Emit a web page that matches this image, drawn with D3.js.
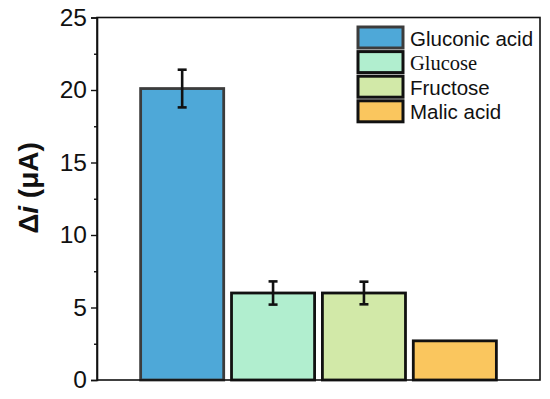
<!DOCTYPE html>
<html><head><meta charset="utf-8">
<script src="https://cdn.jsdelivr.net/npm/d3@7"></script>
<style>body{margin:0;background:#fff}svg{display:block}</style>
</head><body>
<script>
const categories = ["Gluconic acid", "Glucose", "Fructose", "Malic acid"];
const values = [20.1, 6.0, 6.0, 2.7];
const errors = [1.3, 0.8, 0.78, 0];
const colors = ["#4ea8d8", "#b1eecf", "#d2e9a8", "#fac65e"];
const strokes = ["#3c3c3c", "#111", "#111", "#111"];
const legendFonts = ["Arial, 'Liberation Sans', sans-serif", "'Times New Roman', 'Liberation Serif', serif", "Arial, 'Liberation Sans', sans-serif", "Arial, 'Liberation Sans', sans-serif"];
const yTicks = [0, 5, 10, 15, 20, 25];
const yMinorTicks = [2.5, 7.5, 12.5, 17.5, 22.5];

const W = 550, H = 399;
const m = {left: 97, right: 10, top: 17.5, bottom: 19};
const svg = d3.select("body").append("svg").attr("width", W).attr("height", H);

const x = d3.scaleBand().domain(categories).range([m.left, W - m.right]).paddingInner(0.086).paddingOuter(0.48);
const y = d3.scaleLinear().domain([0, 25]).range([H - m.bottom, m.top]);

// bars
svg.selectAll("rect.bar").data(categories).join("rect").attr("class", "bar")
  .attr("x", d => x(d)).attr("width", x.bandwidth())
  .attr("y", (d, i) => y(values[i])).attr("height", (d, i) => y(0) - y(values[i]))
  .attr("fill", (d, i) => colors[i]).attr("stroke", (d, i) => strokes[i]).attr("stroke-width", 2.8);

// error bars
const eg = svg.append("g").attr("stroke", "#111").attr("stroke-width", 2.6);
categories.forEach((c, i) => {
  if (!errors[i]) return;
  const cx = x(c) + x.bandwidth() / 2;
  eg.append("line").attr("x1", cx).attr("x2", cx).attr("y1", y(values[i] + errors[i])).attr("y2", y(values[i] - errors[i]));
  [values[i] + errors[i], values[i] - errors[i]].forEach(v =>
    eg.append("line").attr("x1", cx - 4.5).attr("x2", cx + 4.5).attr("y1", y(v)).attr("y2", y(v)));
});

// frame
svg.append("rect").attr("x", m.left).attr("y", m.top).attr("width", W - m.right - m.left).attr("height", H - m.bottom - m.top)
  .attr("fill", "none").attr("stroke", "#111").attr("stroke-width", 1.6);

// y axis
const ax = svg.append("g").attr("transform", `translate(${m.left},0)`)
  .call(d3.axisLeft(y).tickValues(yTicks).tickSize(6).tickPadding(4).tickFormat(d3.format("d")));
ax.select(".domain").attr("stroke", "#111").attr("stroke-width", 1.6);
ax.selectAll(".tick line").attr("stroke", "#111").attr("stroke-width", 1.4);
ax.selectAll("text").attr("font-family", "Arial, 'Liberation Sans', sans-serif").attr("font-size", 24.5).attr("fill", "#111");
svg.append("g").attr("transform", `translate(${m.left},0)`)
  .call(d3.axisLeft(y).tickValues(yMinorTicks).tickSize(3).tickFormat(""))
  .call(g => g.select(".domain").remove())
  .selectAll("line").attr("stroke", "#111").attr("stroke-width", 1.4);

// y title
const t = svg.append("text").attr("transform", "translate(38,188) rotate(-90)").attr("text-anchor", "middle")
  .attr("font-family", "Arial, 'Liberation Sans', sans-serif").attr("font-size", 28).attr("font-weight", "bold").attr("fill", "#111");
t.append("tspan").text("\u0394");
t.append("tspan").attr("font-style", "italic").text("i");
t.append("tspan").text(" (\u03bcA)");

// legend
const lg = svg.append("g");
categories.forEach((c, i) => {
  const yy = 27 + i * 24.6;
  lg.append("rect").attr("x", 358).attr("y", yy).attr("width", 45).attr("height", 21)
    .attr("fill", colors[i]).attr("stroke", strokes[i]).attr("stroke-width", 3);
  lg.append("text").attr("x", 410).attr("y", yy + 18.5).attr("font-family", legendFonts[i]).attr("font-size", 20.5).attr("fill", "#111").text(c);
});
</script>
</body></html>
